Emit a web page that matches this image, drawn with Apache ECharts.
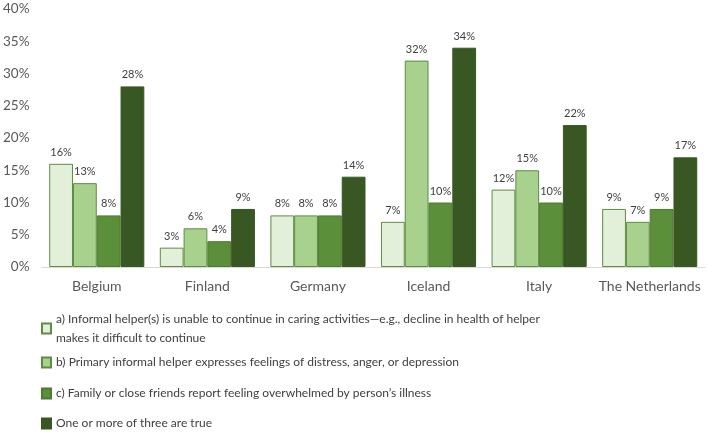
<!DOCTYPE html>
<html>
<head>
<meta charset="utf-8">
<script src="https://cdn.jsdelivr.net/npm/echarts@6/dist/echarts.min.js"></script>
<style>
  html, body { margin: 0; padding: 0; background: #fff; }
  #chart { width: 709px; height: 432px; }
</style>
</head>
<body>
<div id="chart"></div>
<script>
// countries on the x axis
var countries = ['Belgium', 'Finland', 'Germany', 'Iceland', 'Italy', 'The Netherlands'];

// share of respondents (%) per indicator
var seriesNames = [
    'a) Informal helper(s) is unable to continue in caring activities\u2014e.g., decline in health of helper makes it difficult to continue',
    'b) Primary informal helper expresses feelings of distress, anger, or depression',
    'c) Family or close friends report feeling overwhelmed by person\u2019s illness',
    'One or more of three are true'
];
var valuesA = [16, 3, 8, 7, 12, 9];
var valuesB = [13, 6, 8, 32, 15, 7];
var valuesC = [8, 4, 8, 10, 10, 9];
var valuesAny = [28, 9, 14, 34, 22, 17];

var yTicks = [0, 5, 10, 15, 20, 25, 30, 35, 40];

var fills = ['#e2efd9', '#a9d18e', '#5b8f3a', '#385723'];
var borders = ['#5f8c42', '#5f8c42', '#4e7a32', '#385723'];

var chart = echarts.init(document.getElementById('chart'));

var allValues = [valuesA, valuesB, valuesC, valuesAny];
var series = allValues.map(function (vals, i) {
    return {
        name: seriesNames[i],
        type: 'bar',
        data: vals,
        barGap: '0%',
        barCategoryGap: '14%',
        itemStyle: { color: fills[i], borderColor: borders[i], borderWidth: 1 },
        label: {
            show: true,
            position: 'top',
            distance: 6,
            formatter: '{c}%',
            fontFamily: 'Lato',
            fontSize: 11,
            color: '#404040'
        }
    };
});

// legend rows, one legend each so rows sit like the original
var legendTops = [309, 348, 379, 409];
var legends = seriesNames.map(function (name, i) {
    var label = name;
    if (i === 0) {
        label = 'a) Informal helper(s) is unable to continue in caring activities\u2014e.g., decline in health of helper\nmakes it difficult to continue';
    }
    return {
        data: [{ name: name, icon: 'rect', textStyle: i === 0 ? { padding: [19, 0, 0, 0] } : {} }],
        left: 36,
        top: i === 0 ? legendTops[0] - 14 : legendTops[i],
        orient: 'vertical',
        itemWidth: 9,
        itemHeight: 10,
        selectedMode: false,
        formatter: function () { return label; },
        textStyle: {
            fontFamily: 'Lato',
            fontSize: 12,
            lineHeight: 19,
            color: '#404040'
        }
    };
});

chart.setOption({
    animation: false,
    grid: { left: 38, right: 4, top: 9, bottom: 165 },
    legend: legends,
    xAxis: {
        type: 'category',
        data: countries,
        axisLine: { lineStyle: { color: '#d9d9d9', width: 1 } },
        axisTick: { show: false },
        axisLabel: { interval: 0, fontFamily: 'Lato', fontSize: 14, color: '#595959', margin: 12 }
    },
    yAxis: {
        type: 'value',
        min: yTicks[0],
        max: yTicks[yTicks.length - 1],
        interval: 5,
        splitLine: { show: false },
        axisLine: { show: false },
        axisLabel: { fontFamily: 'Lato', fontSize: 13.5, color: '#595959', margin: 12, formatter: '{value}%' }
    },
    series: series
});
</script>
</body>
</html>
